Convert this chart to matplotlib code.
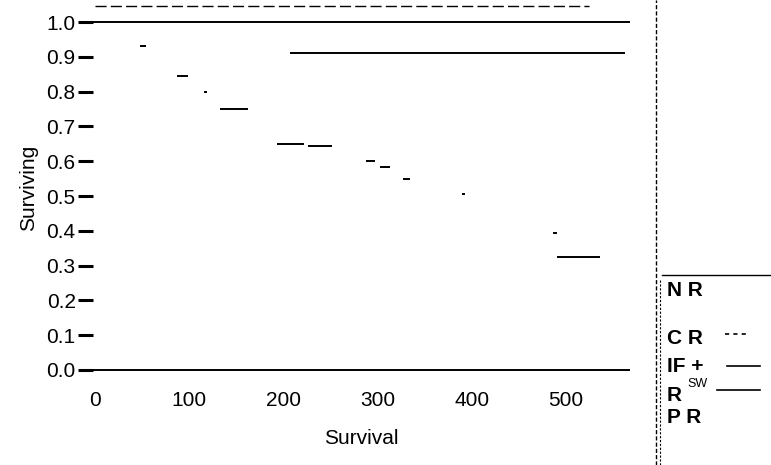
import matplotlib
matplotlib.use("Agg")
import matplotlib.pyplot as plt
from matplotlib.lines import Line2D

plt.rcParams['font.family'] = ['Liberation Sans', 'DejaVu Sans']

# Step segments of the survival curve (start, end, surviving fraction)
seg_start = [48, 87, 116, 133, 193, 226, 288, 303, 327, 390, 486, 491]
seg_end   = [54, 99, 119, 162, 222, 252, 297, 313, 334, 393, 491, 536]
seg_y     = [0.932, 0.845, 0.80, 0.75, 0.65, 0.644, 0.60, 0.584, 0.548, 0.506, 0.394, 0.325]

# Long horizontal reference lines (y, start, end)
ref_y     = [1.0, 0.91, 0.0]
ref_start = [-2, 207, -2]
ref_end   = [568, 563, 568]

top_y, top_start, top_end = 1.046, 0, 525

xticks = [0, 100, 200, 300, 400, 500]
yticks = [0.0, 0.1, 0.2, 0.3, 0.4, 0.5, 0.6, 0.7, 0.8, 0.9, 1.0]
legend_labels = ["N R", "C R", "IF +", "R", "P R"]
legend_styles = [None, (0, (2.5, 2.5)), '-', '-', None]

W, H = 771, 465
fig = plt.figure(figsize=(W/100, H/100), dpi=100)
ax = fig.add_axes([93/W, (H-372)/H, (630-93)/W, 369/H])
ax.set_xlim(-2.1, 568)
ax.set_ylim(-0.006, 1.055)

for s, e, y in zip(seg_start, seg_end, seg_y):
    ax.hlines(y, s, e, color='black', lw=1.4)
for y, s, e in zip(ref_y, ref_start, ref_end):
    ax.hlines(y, s, e, color='black', lw=1.4)
ax.hlines(top_y, top_start, top_end, color='black', lw=1.0, linestyles=(0, (8, 3)))

for sp in ax.spines.values():
    sp.set_visible(False)

ax.set_xticks(xticks)
ax.set_xticklabels([str(t) for t in xticks], fontsize=15)
ax.tick_params(axis='x', length=0, pad=14)
ax.set_yticks(yticks)
ax.set_yticklabels([f"{t:.1f}" for t in yticks], fontsize=15)
ax.tick_params(axis='y', length=11, width=2.2, pad=1.5, color='black')

ax.set_xlabel("Survival", fontsize=15, labelpad=13)
ax.set_ylabel("Surviving", fontsize=15, labelpad=6)

# right-hand frame lines
fig.add_artist(Line2D([656/W, 656/W], [0, 1], transform=fig.transFigure,
                      color='black', lw=1.0, ls=(0, (3, 1.5))))
fig.add_artist(Line2D([660/W, 660/W], [0, (H-280)/H], transform=fig.transFigure,
                      color='black', lw=0.8, ls=(0, (2, 1.5))))
fig.add_artist(Line2D([662/W, 1.0], [(H-275)/H]*2, transform=fig.transFigure,
                      color='black', lw=1.0))

ys = [290, 338, 366, 395, 417]
line_x0 = [None, 725, 727, 717, None]
line_y = [None, 334, 366, 390, None]
for lab, st, yp, lx, ly in zip(legend_labels, legend_styles, ys, line_x0, line_y):
    fig.text(667/W, (H-yp)/H, lab, fontsize=15, fontweight='bold', va='center', ha='left')
    if st is not None:
        xe = 747 if lab == "C R" else 760
        fig.add_artist(Line2D([lx/W, xe/W], [(H-ly)/H]*2, transform=fig.transFigure,
                              color='black', lw=1.2, ls=st))
fig.text(687/W, (H-384)/H, "SW", fontsize=9, va='center', ha='left')

fig.savefig("out.png", dpi=100)
